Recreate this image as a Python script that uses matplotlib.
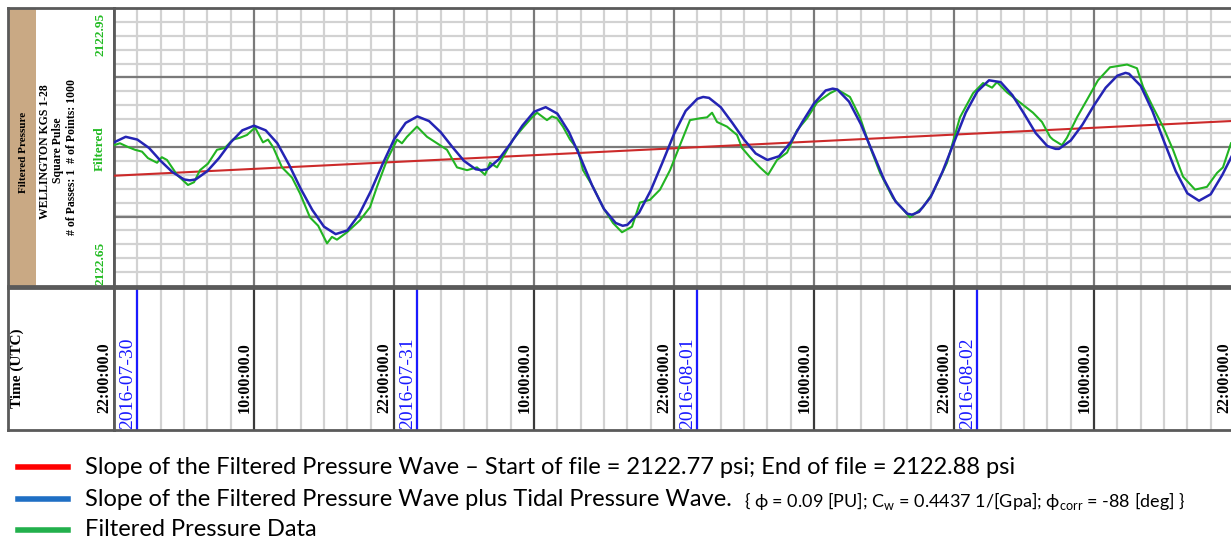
import matplotlib.pyplot as plt
from matplotlib.lines import Line2D
from matplotlib.patches import Rectangle
from matplotlib.ticker import MultipleLocator

# time axis: hours after 2016-07-29 22:00:00 UTC
x_end = 95.74
tick_hours = [0, 12, 24, 36, 48, 60, 72, 84, 96]
tick_labels = ["22:00:00.0", "10:00:00.0"] * 4 + ["22:00:00.0"]
date_hours = [2, 26, 50, 74]
date_labels = ["2016-07-30", "2016-07-31", "2016-08-01", "2016-08-02"]

# pressure range [psi]
p_min, p_max = 2122.65, 2122.95
major_psi = [2122.725, 2122.80, 2122.875]

# slope of the filtered pressure wave (visible part)
trend_hours = [0.0, x_end]
trend_psi = [2122.769, 2122.828]

# slope + tidal pressure wave, read hourly plus the turning points
blue_hours = [
    0, 1, 2, 3, 4, 5, 6, 6.5, 7, 8, 9, 10, 11, 12, 13, 14, 15, 16, 17, 18, 19, 20,
    21, 22, 23, 24, 25, 26, 27, 28, 29, 30, 31, 31.5, 32, 33, 34, 35, 36, 37, 38,
    39, 40, 41, 42, 43, 43.6, 44, 45, 46, 47, 48, 49, 50, 50.5, 51, 52, 53, 54, 55,
    56, 57, 58, 59, 60, 61, 61.6, 62, 63, 64, 65, 66, 67, 68, 68.4, 69, 70, 71, 72,
    73, 74, 75, 76, 77, 78, 79, 80, 80.7, 81, 82, 83, 84, 85, 86, 86.7, 87, 88, 89,
    90, 91, 92, 93, 94, 95, 96,
]
blue_psi = [
    2122.805, 2122.811, 2122.808, 2122.799, 2122.785, 2122.773, 2122.765, 2122.764,
    2122.765, 2122.774, 2122.788, 2122.805, 2122.818, 2122.823, 2122.818, 2122.804,
    2122.781, 2122.755, 2122.732, 2122.714, 2122.706, 2122.710, 2122.727, 2122.752,
    2122.781, 2122.808, 2122.826, 2122.833, 2122.828, 2122.816, 2122.800, 2122.785,
    2122.776, 2122.775, 2122.776, 2122.787, 2122.804, 2122.823, 2122.838, 2122.843,
    2122.836, 2122.816, 2122.788, 2122.758, 2122.733, 2122.718, 2122.715, 2122.716,
    2122.729, 2122.753, 2122.783, 2122.814, 2122.839, 2122.852, 2122.854, 2122.853,
    2122.843, 2122.826, 2122.808, 2122.793, 2122.786, 2122.790, 2122.805, 2122.827,
    2122.847, 2122.861, 2122.863, 2122.862, 2122.849, 2122.825, 2122.795, 2122.765,
    2122.741, 2122.728, 2122.727, 2122.730, 2122.746, 2122.773, 2122.805, 2122.837,
    2122.860, 2122.872, 2122.870, 2122.856, 2122.836, 2122.815, 2122.801, 2122.798,
    2122.798, 2122.807, 2122.824, 2122.845, 2122.864, 2122.877, 2122.880, 2122.879,
    2122.866, 2122.839, 2122.806, 2122.774, 2122.750, 2122.742, 2122.749, 2122.770,
    2122.795,
]

# filtered pressure data
green_hours = [
    0.0, 0.51, 1.2, 1.8, 2.4, 2.91, 3.69, 4.1, 4.54, 5.4, 6.34, 6.86, 7.37, 8.05,
    8.83, 9.5, 10.2, 10.8, 11.4, 12.09, 12.77, 13.2, 13.63, 14.4, 15.26, 15.94,
    16.8, 17.5, 18.26, 18.68, 19.11, 19.97, 21.09, 21.94, 22.54, 23.4, 24.26,
    24.68, 25.11, 25.97, 26.83, 27.69, 28.54, 29.4, 30.26, 31.11, 31.8, 32.23,
    32.83, 33.34, 34.2, 35.06, 35.83, 36.26, 37.11, 37.54, 37.97, 38.48, 39.09,
    39.77, 40.2, 41.06, 41.91, 42.77, 43.54, 44.4, 45.08, 45.94, 46.8, 47.66,
    48.51, 49.37, 50.23, 50.83, 51.26, 51.69, 52.54, 53.4, 53.83, 54.51, 55.37,
    56.06, 56.83, 57.69, 58.54, 59.4, 60.26, 61.37, 62.0, 63.08, 63.94, 64.8,
    65.66, 66.77, 68.23, 69.34, 70.2, 71.4, 72.51, 73.63, 74.49, 75.26, 75.68,
    76.54, 77.66, 78.77, 79.54, 80.23, 80.48, 81.25, 81.68, 82.54, 83.4, 84.34,
    85.37, 86.83, 87.68, 88.2, 89.05, 89.91, 90.77, 91.63, 92.66, 93.68, 94.54,
    95.05, 95.74,
]
green_psi = [
    2122.802, 2122.804, 2122.800, 2122.797, 2122.795, 2122.788, 2122.783, 2122.789,
    2122.786, 2122.770, 2122.759, 2122.762, 2122.775, 2122.782, 2122.797, 2122.799,
    2122.808, 2122.810, 2122.813, 2122.821, 2122.805, 2122.808, 2122.800, 2122.778,
    2122.767, 2122.750, 2122.724, 2122.715, 2122.696, 2122.703, 2122.700, 2122.708,
    2122.721, 2122.735, 2122.757, 2122.786, 2122.808, 2122.804, 2122.811, 2122.822,
    2122.811, 2122.804, 2122.797, 2122.778, 2122.775, 2122.778, 2122.770, 2122.783,
    2122.778, 2122.789, 2122.808, 2122.821, 2122.832, 2122.837, 2122.829, 2122.833,
    2122.831, 2122.822, 2122.808, 2122.797, 2122.775, 2122.757, 2122.735, 2122.718,
    2122.708, 2122.714, 2122.740, 2122.743, 2122.754, 2122.775, 2122.802, 2122.829,
    2122.831, 2122.832, 2122.837, 2122.827, 2122.822, 2122.813, 2122.799, 2122.789,
    2122.778, 2122.770, 2122.786, 2122.794, 2122.818, 2122.831, 2122.848, 2122.858,
    2122.862, 2122.854, 2122.832, 2122.800, 2122.772, 2122.745, 2122.724, 2122.735,
    2122.751, 2122.783, 2122.832, 2122.858, 2122.869, 2122.864, 2122.870, 2122.859,
    2122.848, 2122.837, 2122.827, 2122.811, 2122.808, 2122.802, 2122.810, 2122.832,
    2122.851, 2122.872, 2122.886, 2122.889, 2122.885, 2122.865, 2122.843, 2122.822,
    2122.797, 2122.768, 2122.754, 2122.757, 2122.772, 2122.778, 2122.804,
]

legend_texts = [
    "Slope of the Filtered Pressure Wave \u2013 Start of file = 2122.77 psi; End of file = 2122.88 psi",
    "Slope of the Filtered Pressure Wave plus Tidal Pressure Wave.",
    "Filtered Pressure Data",
]
legend_note = (r"{ $\mathregular{\phi}$ = 0.09 [PU]; C$_{\mathregular{w}}$ = 0.4437 1/[Gpa]; "
               r"$\mathregular{\phi}_{\mathregular{corr}}$ = -88 [deg] }")
legend_colors = ["#ff0000", "#1f6fc4", "#22b04c"]

W, H = 1231, 542
fig = plt.figure(figsize=(W / 100, H / 100), dpi=100)
serif = "Liberation Serif"
frame = "#5a5a5a"
minor_col = "#d2d2d2"
major_col = "#7a7a7a"


def fx(px):
    return px / W


def fy(py):
    return 1 - py / H


main_box = [fx(114), fy(286), 1 - fx(114), fy(8) - fy(286)]
time_box = [fx(114), fy(430), 1 - fx(114), fy(288) - fy(430)]
head_box = [fx(8), fy(286), fx(114) - fx(8), fy(8) - fy(286)]
thead_box = [fx(8), fy(430), fx(114) - fx(8), fy(288) - fy(430)]

ax_h = fig.add_axes(head_box)
ax_th = fig.add_axes(thead_box)
ax = fig.add_axes(main_box)
ax_t = fig.add_axes(time_box, sharex=ax)
ax_t.set_zorder(3)

# main plot
ax.set_xlim(0, x_end)
ax.set_ylim(p_min, p_max)
ax.xaxis.set_major_locator(MultipleLocator(12))
ax.xaxis.set_minor_locator(MultipleLocator(2))
ax.yaxis.set_minor_locator(MultipleLocator(0.015))
ax.grid(which="minor", color=minor_col, lw=1.6)
ax.set_axisbelow(True)
ax.tick_params(which="both", length=0, labelbottom=False, labelleft=False)
for h in tick_hours:
    ax.axvline(h, color=major_col, lw=1.6, zorder=1)
for p in major_psi:
    ax.axhline(p, color=major_col, lw=1.6, zorder=1)
ax.plot(trend_hours, trend_psi, color="#cc2a2a", lw=1.5, zorder=3)
ax.plot(green_hours, green_psi, color="#22b422", lw=1.5, zorder=4)
ax.plot(blue_hours, blue_psi, color="#2424b4", lw=1.8, zorder=5)

# time panel
ax_t.set_ylim(0, 1)
ax_t.grid(which="minor", axis="x", color=minor_col, lw=1.6)
ax_t.tick_params(which="both", length=0, labelbottom=False, labelleft=False)
ax_t.set_yticks([])
for h in tick_hours:
    ax_t.axvline(h, color="#3a3a3a", lw=1.6)
for h in date_hours:
    ax_t.axvline(h, color="#1a1aff", lw=1.6)
for h, lab in zip(tick_hours, tick_labels):
    ax_t.text(h - 0.1, 0.12, lab, rotation=90, ha="right", va="bottom",
              family=serif, weight="bold", fontsize=11.5, color="black")
for h, lab in zip(date_hours, date_labels):
    ax_t.text(h - 0.1, 0.01, lab, rotation=90, ha="right", va="bottom",
              family=serif, fontsize=14, color="#1a1aff")

for a in (ax, ax_t, ax_h, ax_th):
    for s in a.spines.values():
        s.set_color(frame)
        s.set_linewidth(2)
ax.spines["right"].set_visible(False)
ax_t.spines["right"].set_visible(False)

# header panel
ax_h.set_xlim(0, 1)
ax_h.set_ylim(0, 1)
ax_h.set_xticks([])
ax_h.set_yticks([])
ax_h.add_patch(Rectangle((0, 0), 0.264, 1, color="#c9a984", lw=0))
hdr = dict(rotation=90, ha="center", va="center", family=serif, weight="bold")
ax_h.text(0.142, 0.482, "Filtered Pressure", fontsize=8, **hdr)
ax_h.text(0.349, 0.482, "WELLINGTON KGS 1-28", fontsize=8.5, **hdr)
ax_h.text(0.472, 0.49, "Square Pulse", fontsize=8.5, **hdr)
ax_h.text(0.604, 0.464, "# of Passes: 1  # of Points: 1000", fontsize=8.5, **hdr)
green_lab = "#22bb22"
ax_h.text(0.868, 0.982, f"{p_max:.2f}", rotation=90, ha="center", va="top",
          family=serif, weight="bold", fontsize=9.5, color=green_lab)
ax_h.text(0.868, 0.493, "Filtered", rotation=90, ha="center", va="center",
          family=serif, weight="bold", fontsize=9.5, color=green_lab)
ax_h.text(0.868, 0.005, f"{p_min:.2f}", rotation=90, ha="center", va="bottom",
          family=serif, weight="bold", fontsize=9.5, color=green_lab)

ax_th.set_xticks([])
ax_th.set_yticks([])
ax_th.text(0.085, 0.437, "Time (UTC)", rotation=90, ha="center", va="center",
           family=serif, weight="bold", fontsize=11)

# legend under the chart
leg_font = ["Lato", "DejaVu Sans"]
rows_y = [fy(467), fy(499), fy(530)]
for yy, txt, col in zip(rows_y, legend_texts, legend_colors):
    fig.add_artist(Line2D([fx(18), fx(68)], [yy, yy], color=col, lw=4,
                          transform=fig.transFigure))
    fig.text(fx(85), yy, txt, family=leg_font, fontsize=17, va="center")

fig.canvas.draw()
bb = fig.texts[1].get_window_extent()
fig.text((bb.x1 + 12) / W, rows_y[1] - 0.004, legend_note, family=leg_font,
         fontsize=13, va="center")

fig.savefig("out.png", dpi=100)
